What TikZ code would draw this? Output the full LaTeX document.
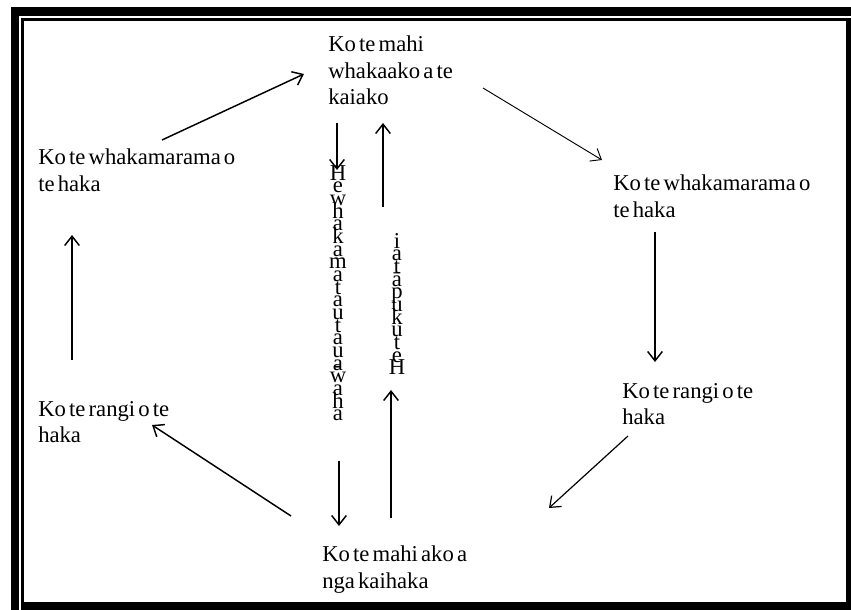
\documentclass[tikz,border=0pt]{standalone}
\usepackage{fontspec}
\setmainfont{Liberation Serif}
\usetikzlibrary{arrows.meta}
\newcommand\lblfont{\fontsize{17}{19.6}\selectfont\spaceskip=0.14em plus 0.05em\relax}
\newcommand\stackfont{\fontsize{17}{9.5}\selectfont\lineskiplimit=-100pt\relax\lineskip=0pt\relax}
\begin{document}
\begin{tikzpicture}[x=0.75pt,y=-0.75pt,
  lbl/.style={anchor=north west,inner sep=0pt,align=left,font=\lblfont},
  vstack/.style={anchor=north,inner sep=0pt,align=center,font=\stackfont},
  arr/.style={line width=1.1pt,-{Straight Barb[length=7pt,width=11pt]}},
  thinarr/.style={arr,line width=0.7pt}]
\useasboundingbox (0,0) rectangle (851,610);
% frame
\fill (11,7) rectangle (19,610);
\fill (11,7) rectangle (851,16);
\fill (21,18) rectangle (24,610);
\fill (21,18) rectangle (846,21);
\fill (846,18) rectangle (851,610);
\fill (22,602) rectangle (851,610);
% nodes
\node[lbl] (top) at (328,36) {Ko te mahi\\whakaako a te\\kaiako};
\node[lbl] (lt) at (38,149) {Ko te whakamarama o\\te haka};
\node[lbl] (rt) at (613,175) {Ko te whakamarama o\\te haka};
\node[lbl] (lb) at (38,401) {Ko te rangi o te\\haka};
\node[lbl] (rb) at (622,383) {Ko te rangi o te\\haka};
\node[lbl] (bot) at (322,546) {Ko te mahi ako a\\nga kaihaka};
\node[vstack] (v1) at (338,165) {H\\e\\w\\h\\a\\k\\a\\m\\a\\t\\a\\u\\t\\a\\u\\a\\\ooalign{w\cr\hidewidth\raisebox{.45em}{-}\hidewidth\cr}\\a\\h\\a};
\node[vstack] (v2) at (397,233) {i\\a\\t\\ā\\p\\u\\k\\u\\t\\e\\H};
% connector ends
\coordinate (a1s) at (162,140); \coordinate (a1e) at (304,74);
\coordinate (a2s) at (483,88);  \coordinate (a2e) at (602,160);
\coordinate (a3s) at (655,232); \coordinate (a3e) at (655,362);
\coordinate (a4s) at (628,436); \coordinate (a4e) at (549,508);
\coordinate (a5s) at (291,516); \coordinate (a5e) at (152,425);
\coordinate (a6s) at (72,360);  \coordinate (a6e) at (72,235);
\coordinate (a7s) at (337,123); \coordinate (a7e) at (337,170);
\coordinate (a8s) at (383,207); \coordinate (a8e) at (383,123);
\coordinate (a9s) at (339,461); \coordinate (a9e) at (339,526);
\coordinate (a10s) at (391,518); \coordinate (a10e) at (391,390);
\draw[arr] (a1s) -- (a1e);
\draw[thinarr] (a2s) -- (a2e);
\draw[arr] (a3s) -- (a3e);
\draw[thinarr,line width=0.9pt] (a4s) -- (a4e);
\draw[arr] (a5s) -- (a5e);
\draw[arr] (a6s) -- (a6e);
\draw[arr] (a7s) -- (a7e);
\draw[arr] (a8s) -- (a8e);
\draw[arr] (a9s) -- (a9e);
\draw[arr] (a10s) -- (a10e);
\end{tikzpicture}
\end{document}
